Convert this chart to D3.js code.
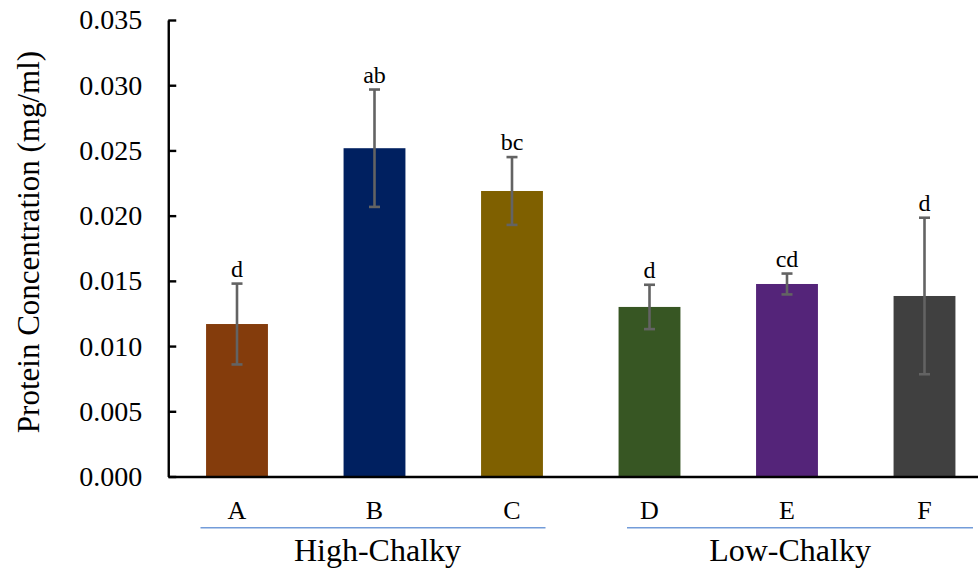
<!DOCTYPE html>
<html>
<head>
<meta charset="utf-8">
<script src="https://cdn.jsdelivr.net/npm/d3@7/dist/d3.min.js"></script>
<style>
  html, body { margin: 0; padding: 0; background: #fff; }
  svg { display: block; }
  svg text { font-family: "Liberation Serif", "Times New Roman", Times, "DejaVu Serif", serif !important; }
</style>
</head>
<body>
<svg id="chart" width="978" height="573"></svg>
<script>
// ---- data ----
const categories = ["A", "B", "C", "D", "E", "F"];
const means = [0.01169, 0.02517, 0.02189, 0.01300, 0.01476, 0.01384];
const errors = [0.0031, 0.0045, 0.0026, 0.0017, 0.0008, 0.0060];
const letters = ["d", "ab", "bc", "d", "cd", "d"];
const colors = ["#843c0c", "#002060", "#7f6000", "#375623", "#542479", "#404040"];
const groups = ["High-Chalky", "Low-Chalky"];
const groupMembers = [["A", "B", "C"], ["D", "E", "F"]];
const yTicks = [0, 0.005, 0.010, 0.015, 0.020, 0.025, 0.030, 0.035];

// ---- layout ----
const plotLeft = 168.25, plotRight = 993.25, plotTop = 20, plotBottom = 476.5;
const svg = d3.select("#chart");

const x = d3.scaleBand().domain(categories).range([plotLeft, plotRight]).paddingInner(0.55).paddingOuter(0.275);
const y = d3.scaleLinear().domain([0, 0.035]).range([plotBottom, plotTop]);

// bars
svg.append("g").selectAll("rect").data(categories).join("rect")
  .attr("x", d => x(d))
  .attr("y", (d, i) => y(means[i]))
  .attr("width", x.bandwidth())
  .attr("height", (d, i) => y(0) - y(means[i]))
  .attr("fill", (d, i) => colors[i]);

// error bars
const eb = svg.append("g").attr("stroke", "#636363").attr("stroke-width", 2.6).attr("fill", "none");
categories.forEach((c, i) => {
  const cx = x(c) + x.bandwidth() / 2;
  const hi = y(means[i] + errors[i]), lo = y(means[i] - errors[i]);
  eb.append("line").attr("x1", cx).attr("x2", cx).attr("y1", hi).attr("y2", lo);
  eb.append("line").attr("x1", cx - 5.5).attr("x2", cx + 5.5).attr("y1", hi).attr("y2", hi);
  eb.append("line").attr("x1", cx - 5.5).attr("x2", cx + 5.5).attr("y1", lo).attr("y2", lo);
});

// significance letters
svg.append("g").selectAll("text").data(categories).join("text")
  .attr("x", d => x(d) + x.bandwidth() / 2)
  .attr("y", (d, i) => y(means[i] + errors[i]) - 7)
  .attr("text-anchor", "middle")
  .attr("font-size", 24)
  .attr("fill", "#000")
  .text((d, i) => letters[i]);

// y axis
const yAxis = svg.append("g").attr("transform", `translate(${plotLeft},0)`)
  .call(d3.axisLeft(y).tickValues(yTicks).tickFormat(d3.format(".3f"))
    .tickSizeInner(-8).tickSizeOuter(0).tickPadding(26));
yAxis.select(".domain").attr("stroke", "#000").attr("stroke-width", 2.4);
yAxis.selectAll(".tick line").attr("stroke", "#000").attr("stroke-width", 2.4);
yAxis.selectAll(".tick text").attr("font-size", 28).attr("fill", "#000");

// x axis
const xAxis = svg.append("g").attr("transform", `translate(0,${plotBottom})`)
  .call(d3.axisBottom(x).tickSizeInner(0).tickSizeOuter(0).tickPadding(0));
xAxis.select(".domain").attr("stroke", "#000").attr("stroke-width", 2.4);
xAxis.selectAll(".tick text").attr("font-size", 26).attr("fill", "#000")
  .attr("y", 518.5 - plotBottom).attr("dy", 0);

// group lines and labels
const groupInset = [[-36.5, 33.5], [-22.5, 48.5]];
groups.forEach((g, gi) => {
  const mem = groupMembers[gi];
  const x0 = x(mem[0]) + x.bandwidth() / 2 + groupInset[gi][0];
  const x1 = x(mem[mem.length - 1]) + x.bandwidth() / 2 + groupInset[gi][1];
  svg.append("line").attr("x1", x0).attr("x2", x1).attr("y1", 527.7).attr("y2", 527.7)
    .attr("stroke", "#739cd9").attr("stroke-width", 1.6);
  svg.append("text")
    .attr("x", x(mem[1]) + x.bandwidth() / 2 + 3)
    .attr("y", 561)
    .attr("text-anchor", "middle")
    .attr("font-size", 32)
    .attr("fill", "#000")
    .text(g);
});

// y title
svg.append("text")
  .attr("transform", "rotate(-90)")
  .attr("x", -242)
  .attr("y", 38.5)
  .attr("text-anchor", "middle")
  .attr("font-size", 31)
  .attr("fill", "#000")
  .text("Protein Concentration (mg/ml)");
</script>
</body>
</html>
